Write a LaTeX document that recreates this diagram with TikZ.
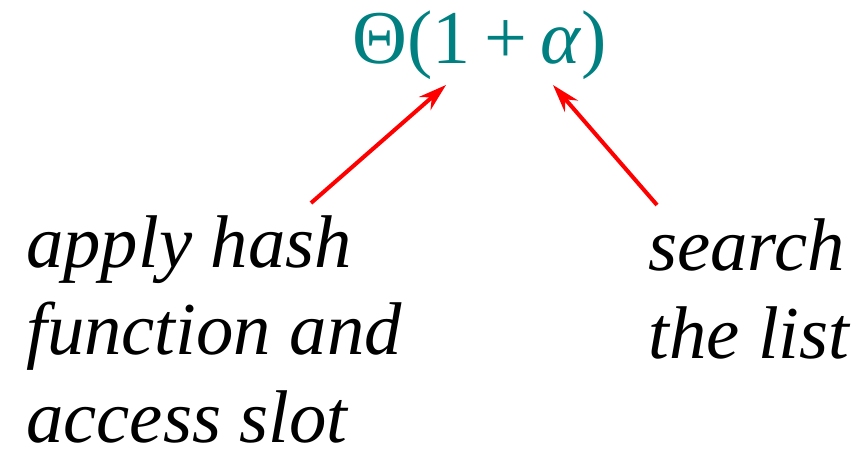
\documentclass[tikz,border=0pt]{standalone}
\usepackage{fontspec}
\setmainfont{Liberation Serif}
\usepackage{tikz}
\usetikzlibrary{arrows.meta}
\definecolor{costteal}{RGB}{0,128,128}
\tikzset{
  >={Stealth[length=21pt,width=13pt]},
  note/.style={anchor=base west, align=left, inner sep=0pt, font=\fontsize{56pt}{65.5pt}\selectfont\itshape},
  cost/.style={anchor=base west, inner sep=0pt, text=costteal, font=\fontsize{57pt}{65pt}\selectfont},
  pointer/.style={->, red, line width=3pt}
}

\begin{document}
\begin{tikzpicture}[x=0.75pt, y=-0.75pt]
\useasboundingbox (0,0) rectangle (856,456);
\node[cost] (bound) at (352,64) {Θ(1\hspace{0.18em}+\hspace{0.18em}\textit{α})};
% base of a multi-line node is its last line
\node[note] (hashing) at (26,442) {apply hash\\function and\\access slot};
\node[note] (scan) at (648,358) {search\\the list};
\coordinate (hashtail) at (311,203);
\coordinate (hashtip) at (446,85);
\coordinate (scantail) at (657,205);
\coordinate (scantip) at (553,85);
\draw[pointer] (hashtail) -- (hashtip);
\draw[pointer] (scantail) -- (scantip);
\end{tikzpicture}
\end{document}
